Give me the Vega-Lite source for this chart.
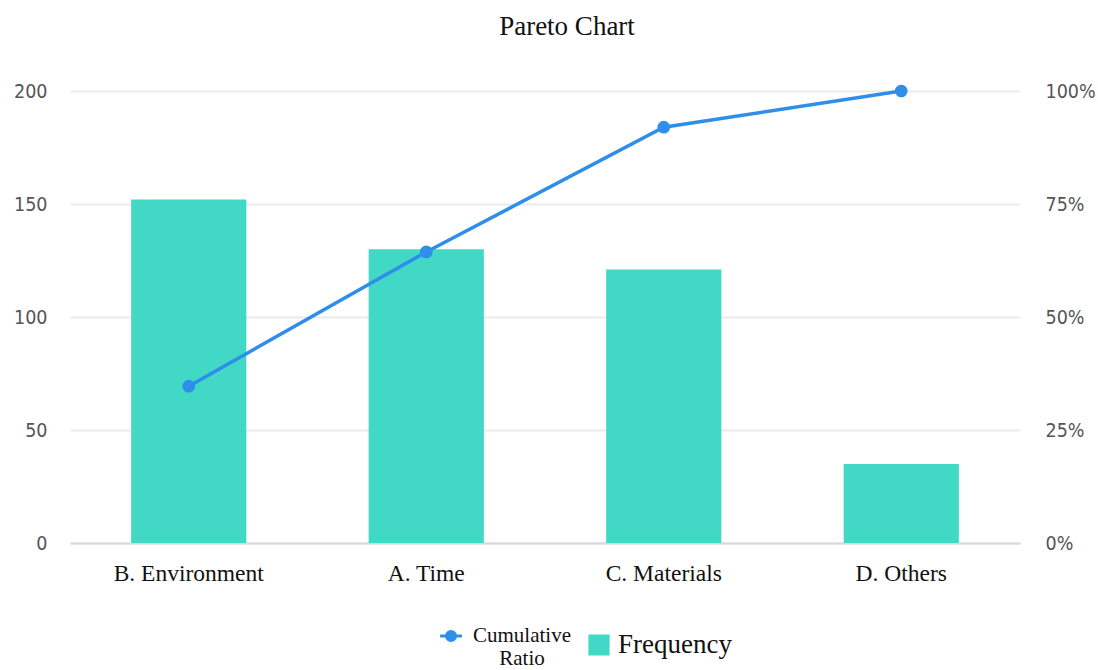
{
  "$schema": "https://vega.github.io/schema/vega-lite/v6.json",
  "autosize": "none",
  "width": 950,
  "height": 452,
  "padding": {"left": 70, "top": 91, "right": 78, "bottom": 127},
  "background": "white",
  "title": {"text": "Pareto Chart", "font": "Liberation Serif", "fontSize": 27, "fontWeight": "normal", "color": "#111", "offset": 40, "dx": 22},
  "data": {"values": [
    {"cause": "B. Environment", "frequency": 152, "cumulative": 0.347},
    {"cause": "A. Time", "frequency": 130, "cumulative": 0.644},
    {"cause": "C. Materials", "frequency": 121, "cumulative": 0.920},
    {"cause": "D. Others", "frequency": 35, "cumulative": 1.0}
  ]},
  "encoding": {
    "x": {"field": "cause", "type": "nominal", "sort": null,
      "scale": {"paddingInner": 0, "paddingOuter": 0},
      "axis": {"title": null, "labelAngle": 0, "labelFont": "Liberation Serif", "labelFontSize": 23.5, "labelColor": "#111", "ticks": false, "domainColor": "#d3d8ea", "domainWidth": 2, "labelPadding": 18}
    }
  },
  "layer": [
    {
      "mark": {"type": "bar", "width": {"band": 0.485}},
      "encoding": {
        "y": {"field": "frequency", "type": "quantitative", "scale": {"domain": [0, 200]},
          "axis": {"title": null, "orient": "left", "values": [0, 50, 100, 150, 200], "domain": false, "ticks": false, "labelFont": "DejaVu Sans Condensed", "labelFontSize": 19.5, "labelColor": "#555", "labelPadding": 23, "gridColor": "#ebebeb", "gridWidth": 2}},
        "color": {"datum": "Frequency", "type": "nominal"}
      }
    },
    {
      "mark": {"type": "line", "strokeWidth": 3.5, "point": {"filled": true, "size": 160}},
      "encoding": {
        "y": {"field": "cumulative", "type": "quantitative", "scale": {"domain": [0, 1]},
          "axis": {"title": null, "orient": "right", "format": ".0%", "values": [0, 0.25, 0.5, 0.75, 1], "domain": false, "ticks": false, "grid": false, "labelFont": "DejaVu Sans Condensed", "labelFontSize": 19.5, "labelColor": "#555", "labelPadding": 25}},
        "color": {"datum": "Cumulative Ratio", "type": "nominal",
          "scale": {"domain": ["Cumulative Ratio", "Frequency"], "range": ["#2e8eea", "#41d8c6"]},
          "legend": {
            "title": null, "orient": "none", "legendX": 370, "legendY": 534, "direction": "horizontal",
            "labelFont": "Liberation Serif", "labelFontSize": 21, "labelColor": "#111",
            "labelExpr": "datum.value == 'Cumulative Ratio' ? ['Cumulative', 'Ratio'] : datum.value",
            "symbolSize": 330, "columnPadding": 12, "labelOffset": 8,
            "encode": {
              "symbols": {"update": {
                "shape": {"signal": "datum.value == 'Frequency' ? 'square' : 'M-1.2,0H1.2M0.5,0A0.5,0.5,0,1,1,-0.5,0A0.5,0.5,0,1,1,0.5,0'"},
                "fill": {"signal": "datum.value == 'Frequency' ? '#41d8c6' : '#2e8eea'"},
                "stroke": {"signal": "datum.value == 'Frequency' ? null : '#2e8eea'"},
                "strokeWidth": {"value": 3},
                "opacity": {"value": 1}
              }},
              "labels": {"update": {
                "fontSize": {"signal": "datum.value == 'Frequency' ? 27 : 21"},
                "align": {"signal": "datum.value == 'Frequency' ? 'left' : 'center'"},
                "dx": {"signal": "datum.value == 'Frequency' ? 0 : 52"}
              }}
            }
          }
        }
      }
    }
  ],
  "resolve": {"scale": {"y": "independent"}},
  "config": {
    "view": {"stroke": null}
  }
}
